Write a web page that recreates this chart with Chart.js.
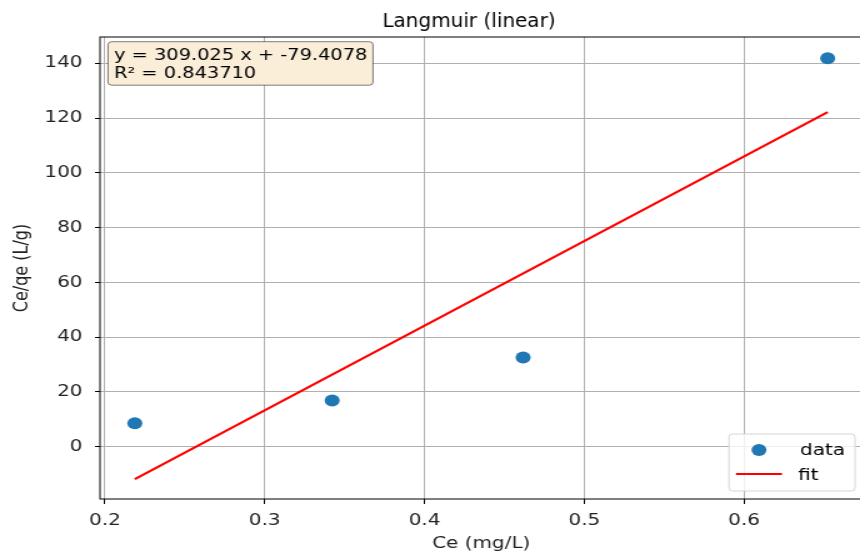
<!DOCTYPE html>
<html>
<head>
<meta charset="utf-8">
<script src="https://cdn.jsdelivr.net/npm/chart.js@4.4.1/dist/chart.umd.min.js"></script>
<style>
  html, body { margin: 0; padding: 0; background: #fff; overflow: hidden; }
  #chart { display: block; width: 870px !important; height: 559px !important; }
</style>
</head>
<body>
<canvas id="chart" width="696" height="559" style="width:870px;height:559px"></canvas>
<script>
// values
const ceValues = [0.2187, 0.3422, 0.4617, 0.6523];
const ceQeValues = [8.6, 16.9, 32.6, 141.8];
const fitX = [0.2187, 0.6523];
const fitY = [-11.82, 122.16];
const fitLabel = 'y = 309.025 x + -79.4078';
const r2Label = 'R\u00b2 = 0.843710';
const chartTitle = 'Langmuir (linear)';
const xTitle = 'Ce (mg/L)';
const yTitle = 'Ce/qe (L/g)';
const legendLabels = ['data', 'fit'];

// the reference is stretched sideways, so the canvas is too
const S = 1.25;
const FONT = "'DejaVu Sans', sans-serif";
const BLUE = '#1f77b4';
const RED = '#ff0000';

const overlay = {
    id: 'overlay',
    afterDraw(chart) {
        const ctx = chart.ctx;
        const a = chart.chartArea;

        // frame
        ctx.save();
        ctx.strokeStyle = '#000';
        ctx.lineWidth = 1;
        ctx.strokeRect(a.left, a.top, a.right - a.left, a.bottom - a.top);
        ctx.restore();

        // title, not stretched
        ctx.save();
        ctx.scale(1 / S, 1);
        ctx.fillStyle = '#000';
        ctx.font = '20px ' + FONT;
        ctx.textAlign = 'center';
        ctx.textBaseline = 'alphabetic';
        ctx.fillText(chartTitle, 469, 27);
        ctx.restore();

        // equation box
        ctx.save();
        ctx.beginPath();
        ctx.roundRect(108 / S, 41.7, (373 - 108) / S, 43.5, 3);
        ctx.fillStyle = 'rgb(250, 238, 217)';
        ctx.fill();
        ctx.strokeStyle = 'rgba(0,0,0,0.5)';
        ctx.lineWidth = 1;
        ctx.stroke();
        ctx.fillStyle = '#000';
        ctx.font = '15.5px ' + FONT;
        ctx.textAlign = 'left';
        ctx.textBaseline = 'alphabetic';
        ctx.fillText(fitLabel, 114 / S, 60);
        ctx.fillText(r2Label, 114 / S, 78.3);
        ctx.restore();

        // legend
        ctx.save();
        ctx.beginPath();
        ctx.roundRect(729 / S, 434, (855 - 729) / S, 57, 3);
        ctx.fillStyle = 'rgba(255,255,255,0.8)';
        ctx.fill();
        ctx.strokeStyle = '#d6d6d6';
        ctx.lineWidth = 1;
        ctx.stroke();
        ctx.beginPath();
        ctx.arc(759 / S, 450, 6, 0, Math.PI * 2);
        ctx.fillStyle = BLUE;
        ctx.fill();
        ctx.beginPath();
        ctx.moveTo(736 / S, 474);
        ctx.lineTo(782 / S, 474);
        ctx.strokeStyle = RED;
        ctx.lineWidth = 2;
        ctx.stroke();
        ctx.fillStyle = '#000';
        ctx.font = '16px ' + FONT;
        ctx.textAlign = 'left';
        ctx.fillText(legendLabels[0], 800 / S, 455);
        ctx.fillText(legendLabels[1], 798 / S, 480);
        ctx.restore();
    }
};

const ctx = document.getElementById('chart').getContext('2d');
new Chart(ctx, {
    type: 'scatter',
    data: {
        datasets: [
            {
                label: legendLabels[0],
                data: ceValues.map((x, i) => ({ x, y: ceQeValues[i] })),
                backgroundColor: BLUE,
                borderColor: BLUE,
                pointRadius: 6,
                pointBorderWidth: 0
            },
            {
                label: legendLabels[1],
                type: 'line',
                data: fitX.map((x, i) => ({ x, y: fitY[i] })),
                borderColor: RED,
                borderWidth: 2.2,
                pointRadius: 0,
                fill: false
            }
        ]
    },
    options: {
        responsive: false,
        maintainAspectRatio: false,
        devicePixelRatio: 1,
        animation: false,
        layout: { padding: { top: 37, right: 3, bottom: 0, left: 0 } },
        plugins: {
            legend: { display: false },
            title: { display: false },
            tooltip: { enabled: false }
        },
        scales: {
            x: {
                type: 'linear',
                min: 0.1969,
                max: 0.6741,
                afterFit: s => { s.height = 60; },
                border: { display: false },
                grid: { color: '#b0b0b0', lineWidth: 1, tickColor: '#000', tickLength: 5 },
                ticks: {
                    stepSize: 0.1,
                    includeBounds: false,
                    padding: 7,
                    color: '#222',
                    maxRotation: 0,
                    font: { family: FONT, size: 16 }
                },
                title: {
                    display: true,
                    text: xTitle,
                    color: '#222',
                    font: { family: FONT, size: 16 },
                    padding: { top: 0, bottom: 6 }
                }
            },
            y: {
                type: 'linear',
                min: -19.1,
                max: 149.6,
                afterFit: s => { s.width = 80; },
                border: { display: false },
                grid: { color: '#b0b0b0', lineWidth: 1, tickColor: '#000', tickLength: 4 },
                ticks: {
                    stepSize: 20,
                    includeBounds: false,
                    padding: 10,
                    color: '#222',
                    font: { family: FONT, size: 16 }
                },
                title: {
                    display: true,
                    text: yTitle,
                    color: '#222',
                    font: { family: FONT, size: 16 },
                    padding: { top: 8, bottom: 0 }
                }
            }
        }
    },
    plugins: [overlay]
});
</script>
</body>
</html>
